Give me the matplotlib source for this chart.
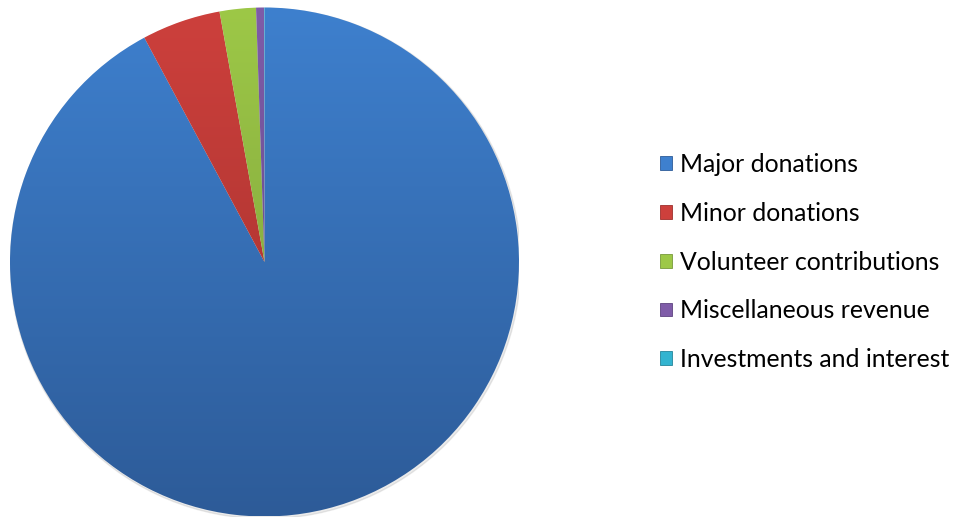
import numpy as np
import matplotlib.pyplot as plt
from matplotlib.colors import to_rgb
from matplotlib.patches import Patch

# revenue shares (percent)
labels = ["Major donations", "Minor donations", "Volunteer contributions",
          "Miscellaneous revenue", "Investments and interest"]
shares = [92.2, 5.0, 2.3, 0.5, 0.03]

# (top colour, bottom colour) for the Office-style vertical gradient
top_colors = ["#3E80CE", "#CD403C", "#9DC847", "#7F5CA8", "#33B4D0"]
bottom_colors = ["#2D5B98", "#9E2F2C", "#78993A", "#5E4380", "#25859A"]

fig = plt.figure(figsize=(9.58, 5.19), dpi=100)
fig.patch.set_facecolor("white")

# pie fills a square axes: x 10..519 px, y 7..516 px (from top)
W, H = 958, 519
ax = fig.add_axes([10 / W, (H - 516.5) / H, 509 / W, 509 / H])
ax.set_aspect("equal")
ax.axis("off")

# faint shadow around the rim
shadow = plt.Circle((0.004, -0.006), 1.003, color="#000000", alpha=0.08, zorder=0)
ax.add_patch(shadow)

wedges, _ = ax.pie(shares, startangle=90, counterclock=False, radius=1.0,
                   colors=top_colors, wedgeprops=dict(linewidth=0))

# vertical gradient inside each slice
t = np.linspace(0, 1, 256)[:, None]
for w, c0, c1 in zip(wedges, top_colors, bottom_colors):
    a, b = np.array(to_rgb(c0)), np.array(to_rgb(c1))
    grad = (a[None, None, :] * (1 - t[..., None]) + b[None, None, :] * t[..., None])
    grad = np.repeat(grad, 2, axis=1)
    im = ax.imshow(grad, extent=(-1, 1, -1, 1), origin="upper",
                   interpolation="bilinear", zorder=2, aspect="auto")
    im.set_clip_path(w)
    w.set_facecolor("none")

ax.set_xlim(-1.0, 1.0)
ax.set_ylim(-1.0, 1.0)

handles = [Patch(facecolor=c0, edgecolor=c1, linewidth=0.6) for c0, c1 in zip(top_colors, bottom_colors)]
fig.legend(handles, labels, loc="center left", bbox_to_anchor=(660 / W, 1 - 262 / H),
           frameon=False, prop={"family": "Lato", "size": 17.8},
           handlelength=0.48, handleheight=0.48, handletextpad=0.33,
           labelspacing=1.04, borderaxespad=0, borderpad=0)

fig.savefig("out.png", dpi=100, facecolor="white")
